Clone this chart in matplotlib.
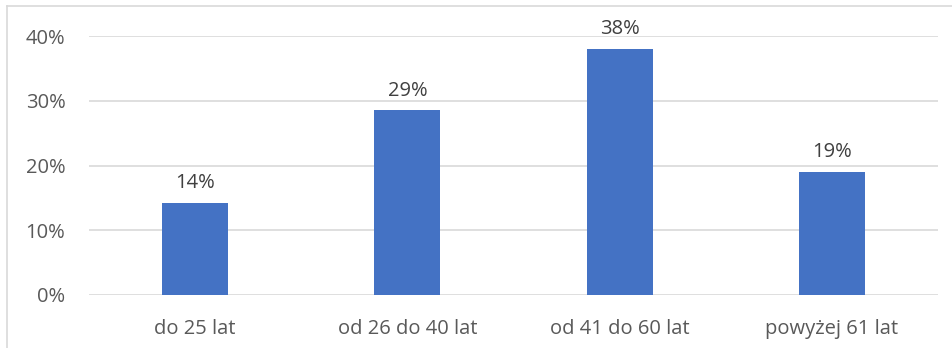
import matplotlib
matplotlib.use("Agg")
import matplotlib.pyplot as plt
from matplotlib.lines import Line2D

categories = ["do 25 lat", "od 26 do 40 lat", "od 41 do 60 lat", "powyżej 61 lat"]
values = [0.142, 0.285, 0.380, 0.190]
labels = ["14%", "29%", "38%", "19%"]
yticks = [0, 0.1, 0.2, 0.3, 0.4]
ytick_labels = ["0%", "10%", "20%", "30%", "40%"]

W, H = 953, 348
fig = plt.figure(figsize=(W / 100, H / 100), dpi=100)
plt.rcParams['font.family'] = ['Open Sans', 'DejaVu Sans']

left, right = 89 / W, 938 / W
bottom, top = 1 - 295 / H, 1 - 36 / H
ax = fig.add_axes([left, bottom, right - left, top - bottom])

x = list(range(len(categories)))
ax.bar(x, values, width=0.31, color="#4472C4", zorder=3)
for xi, v, lab in zip(x, values, labels):
    ax.annotate(lab, (xi, v), xytext=(0, 7), textcoords="offset points",
                ha="center", va="bottom", fontsize=14.5, color="#404040", clip_on=False)

ax.set_xlim(-0.5, len(categories) - 0.5)
ax.set_ylim(0, 0.4)
ax.set_yticks(yticks)
ax.set_yticklabels(ytick_labels)
ax.set_xticks(x)
ax.set_xticklabels(categories)
ax.yaxis.grid(True, color="#d9d9d9", linewidth=1.2, zorder=0)
for s in ax.spines.values():
    s.set_visible(False)
ax.tick_params(axis="both", length=0, labelsize=14.5, colors="#595959")
ax.tick_params(axis="y", pad=17)
ax.tick_params(axis="x", pad=17)

fig.add_artist(Line2D([7 / W, 1], [1 - 6 / H, 1 - 6 / H], color="#d9d9d9", linewidth=1.2, transform=fig.transFigure))
fig.add_artist(Line2D([7 / W, 7 / W], [0, 1 - 6 / H], color="#d9d9d9", linewidth=1.2, transform=fig.transFigure))

fig.savefig("out.png", dpi=100, facecolor="white")
